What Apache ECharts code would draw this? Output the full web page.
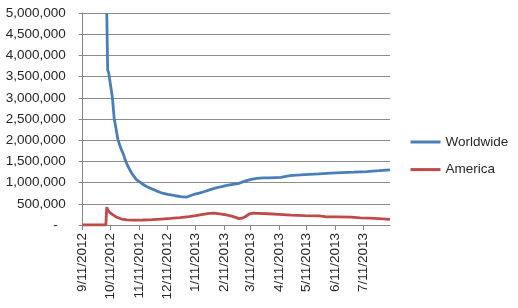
<!DOCTYPE html>
<html>
<head>
<meta charset="utf-8">
<script src="https://cdn.jsdelivr.net/npm/echarts@6/dist/echarts.min.js"></script>
<style>html,body{margin:0;padding:0;background:#fff}#c{width:518px;height:308px}</style>
</head>
<body>
<div id="c"></div>
<script>
var startDate = '2012-09-11';
var endDate = '2013-08-09';
var tickDates = ['2012-09-11','2012-10-11','2012-11-11','2012-12-11','2013-01-11','2013-02-11','2013-03-11','2013-04-11','2013-05-11','2013-06-11','2013-07-11'];
var yTicks = [0,500000,1000000,1500000,2000000,2500000,3000000,3500000,4000000,4500000,5000000];

var worldwideDates = ['2012-10-07','2012-10-08','2012-10-09','2012-10-10','2012-10-13','2012-10-15','2012-10-16','2012-10-19','2012-10-22','2012-10-25','2012-10-27','2012-10-30','2012-11-03','2012-11-08','2012-11-12','2012-11-15','2012-11-19','2012-11-25','2012-11-30','2012-12-05','2012-12-12','2012-12-20','2012-12-26','2013-01-01','2013-01-05','2013-01-09','2013-01-15','2013-01-20','2013-01-26','2013-02-01','2013-02-08','2013-02-15','2013-02-22','2013-02-26','2013-03-02','2013-03-07','2013-03-12','2013-03-18','2013-03-25','2013-04-01','2013-04-13','2013-04-23','2013-05-04','2013-05-14','2013-05-24','2013-06-06','2013-06-18','2013-07-01','2013-07-15','2013-07-28','2013-08-09'];
var worldwideValues = [5000000,3650000,3600000,3560000,3020000,2520000,2480000,2020000,1820000,1670000,1530000,1380000,1220000,1070000,1010000,960000,910000,850000,800000,760000,720000,690000,670000,655000,690000,720000,750000,785000,830000,870000,903000,940000,965000,975000,1010000,1045000,1075000,1100000,1110000,1112000,1125000,1165000,1180000,1195000,1205000,1225000,1235000,1245000,1260000,1280000,1300000];

var americaDates = ['2012-09-11','2012-10-06','2012-10-07','2012-10-08','2012-10-10','2012-10-13','2012-10-17','2012-10-23','2012-10-29','2012-11-05','2012-11-15','2012-11-25','2012-12-05','2012-12-15','2012-12-25','2013-01-04','2013-01-11','2013-01-19','2013-01-26','2013-01-31','2013-02-06','2013-02-13','2013-02-19','2013-02-24','2013-02-27','2013-03-02','2013-03-06','2013-03-10','2013-03-14','2013-03-20','2013-03-30','2013-04-11','2013-04-24','2013-05-09','2013-05-24','2013-05-31','2013-06-13','2013-06-28','2013-07-08','2013-07-18','2013-07-28','2013-08-09'];
var americaValues = [0,0,420000,360000,300000,250000,190000,140000,120000,115000,118000,125000,140000,155000,175000,200000,220000,250000,275000,282000,265000,240000,210000,175000,150000,160000,200000,260000,280000,275000,265000,250000,232000,220000,215000,195000,190000,185000,170000,160000,150000,135000];

function ts(s){ var p = s.split('-'); return Date.UTC(+p[0], +p[1]-1, +p[2]); }
function toPairs(dates, vals){ return dates.map(function(d,i){ return [ts(d), vals[i]]; }); }

var font = 'Liberation Sans';
var textColor = '#262626';
var chart = echarts.init(document.getElementById('c'));
chart.setOption({
  animation: false,
  grid: {left: 82.7, right: 128, top: 13, bottom: 83, containLabel: false},
  legend: {
    orient: 'vertical', left: 410.5, top: 134, padding: 0, itemGap: 11.6,
    icon: 'rect', itemWidth: 30, itemHeight: 3,
    textStyle: {fontFamily: font, fontSize: 13.5, color: textColor, lineHeight: 16},
    data: ['Worldwide','America']
  },
  xAxis: {
    type: 'value', min: ts(startDate), max: ts(endDate),
    axisLine: {show: true, onZero: false, lineStyle: {color: '#868686', width: 1}},
    axisTick: {show: true, length: 5, lineStyle: {color: '#868686'}, customValues: tickDates.map(ts)},
    splitLine: {show: false},
    axisLabel: {
      customValues: tickDates.map(ts), rotate: 90, margin: 8,
      fontFamily: font, fontSize: 13.5, color: textColor,
      formatter: function(v){ var d = new Date(v); return (d.getUTCMonth()+1) + '/' + d.getUTCDate() + '/' + d.getUTCFullYear(); }
    }
  },
  yAxis: {
    type: 'value', min: yTicks[0], max: yTicks[yTicks.length-1], interval: yTicks[1]-yTicks[0],
    axisLine: {show: true, lineStyle: {color: '#868686', width: 1}},
    axisTick: {show: true, length: 4, lineStyle: {color: '#868686'}},
    splitLine: {show: true, lineStyle: {color: '#8c8c8c', width: 1}},
    axisLabel: {
      margin: 17, fontFamily: font, fontSize: 13.5, color: textColor,
      formatter: function(v){ return v === 0 ? '{z|-}' : v.toLocaleString('en-US'); },
      rich: {z: {fontFamily: font, fontSize: 13.5, color: textColor, padding: [0, 8, 0, 0]}}
    }
  },
  series: [
    {name: 'Worldwide', type: 'line', data: toPairs(worldwideDates, worldwideValues), showSymbol: false, symbol: 'none',
     lineStyle: {color: '#4a7ebb', width: 2.8}, itemStyle: {color: '#4a7ebb'}, clip: true},
    {name: 'America', type: 'line', data: toPairs(americaDates, americaValues), showSymbol: false, symbol: 'none',
     lineStyle: {color: '#be4b48', width: 2.8}, itemStyle: {color: '#be4b48'}, clip: true}
  ]
});
</script>
</body>
</html>
